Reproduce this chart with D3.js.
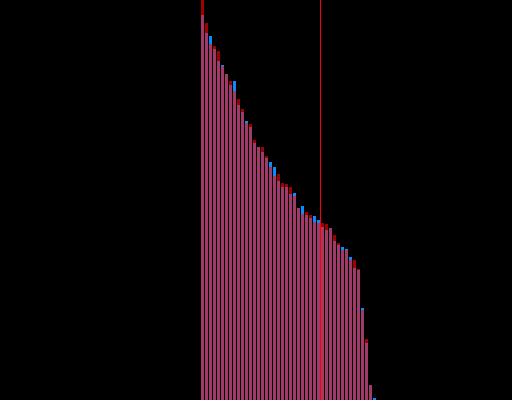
<!DOCTYPE html>
<html>
<head>
<meta charset="utf-8">
<script src="https://cdn.jsdelivr.net/npm/d3@7"></script>
<style>
  html, body { margin: 0; padding: 0; background: #000; }
  svg { display: block; }
</style>
</head>
<body>
<div id="chart"></div>
<script>
// Werte der beiden Reihen (rot und blau), pro Balken
const redValues = [100, 94.25, 89, 88.5, 87.25, 83.5, 81.5, 79.75, 77.25, 75.25,
  72.75, 69.25, 69, 65, 63.25, 63.25, 61, 58.25, 56, 56.5,
  54.25, 54, 53.25, 51, 48, 46.5, 47, 46.25, 44.5, 44.25,
  44.25, 44, 43, 41.25, 39.25, 37.5, 37.5, 35, 35, 32.75,
  22.5, 15.25, 3.75, 0];
const blueValues = [96.25, 91.75, 91, 87.75, 84.75, 83.75, 81.5, 78.75, 79.75, 73.75,
  72, 69.75, 68.25, 64.25, 63.25, 62, 60.5, 59.5, 58.25, 54.75,
  53.25, 53.25, 51.5, 51.75, 48, 48.5, 46.25, 45.5, 46, 45,
  43.25, 42.5, 43, 39.75, 38.75, 38.25, 37.75, 35.75, 33, 32.5,
  23, 14.25, 3.75, 0.5];
// Markierung (rote Linie)
const markerPosition = 29.75;

const width = 512, height = 400;
const svg = d3.select("#chart").append("svg")
    .attr("width", width)
    .attr("height", height)
    .style("background", "#000")
    .attr("shape-rendering", "crispEdges");

const x = d3.scaleLinear().domain([0, redValues.length]).range([201, 201 + 4 * redValues.length]);
const y = d3.scaleLinear().domain([0, 100]).range([height, 0]);
const barWidth = 3;

const bars = redValues.map((r, i) => ({ i, red: r, blue: blueValues[i] }));

const g = svg.append("g");

// Oberer Teil: welche Reihe größer ist
g.selectAll(".top")
    .data(bars)
    .enter().append("rect")
    .attr("class", "top")
    .attr("x", d => x(d.i))
    .attr("width", barWidth)
    .attr("y", d => y(Math.max(d.red, d.blue)))
    .attr("height", d => height - y(Math.max(d.red, d.blue)))
    .style("fill", d => d.red >= d.blue ? "#a00000" : "#0a8cff");

// Überlappung
g.selectAll(".overlap")
    .data(bars)
    .enter().append("rect")
    .attr("class", "overlap")
    .attr("x", d => x(d.i))
    .attr("width", barWidth)
    .attr("y", d => y(Math.min(d.red, d.blue)))
    .attr("height", d => height - y(Math.min(d.red, d.blue)))
    .style("fill", "#a03a69");

// Rote Linie
svg.append("rect")
    .attr("x", x(markerPosition))
    .attr("y", 0)
    .attr("width", 1)
    .attr("height", height)
    .style("fill", "#ff0000");
</script>
</body>
</html>
